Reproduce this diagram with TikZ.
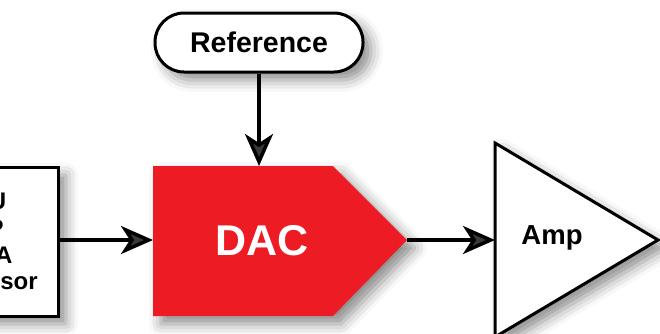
\documentclass[tikz,border=0pt]{standalone}
\usepackage{fontspec}
\setmainfont{Liberation Sans}
\usetikzlibrary{arrows.meta,shadows.blur}
\definecolor{dacred}{HTML}{ED1C24}
\begin{document}
\begin{tikzpicture}[x=1pt,y=-1pt,
  conn/.style={line width=3.5pt, -{Stealth[length=32pt,width=28pt,inset=9pt]}},
  shad/.style={blur shadow={shadow xshift=8pt, shadow yshift=-8pt, shadow blur radius=12pt, shadow opacity=45}},
  box/.style={draw=black, line width=3pt, fill=white, shad},
  lbl/.style={font=\bfseries\fontsize{#1}{#1}\selectfont}
]
\useasboundingbox (0,0) rectangle (660,333);
\clip (0,0) rectangle (660,333);

% processor box (cut by the left edge)
\node[box, minimum width=158pt, minimum height=149pt, align=center,
      font=\bfseries\fontsize{24}{26.7}\selectfont] (proc) at (-21,241.5)
  {MCU\\DSP\\FPGA\\Processor};

% reference
\node[box, rounded corners=29pt, minimum width=208pt, minimum height=59pt,
      lbl=28.5] (ref) at (259,42.5) {Reference};

% DAC
\path[fill=dacred, shad] (153,166) -- (333,166) -- (407,240) coordinate (dacout)
  -- (333,316) -- (153,316) -- (153,240) coordinate (dacin) -- cycle;
\coordinate (dactop) at (259,166);
\node[lbl=43, text=white] (dac) at (262,240.5) {DAC};

% Amp
\path[box, line join=miter] (495,143) -- (658,240) -- (495,337) -- cycle;
\coordinate (ampin) at (495,240);
\node[lbl=27.5] (amp) at (552,238) {Amp};

% connectors
\draw[conn] (ref.south) -- (dactop);
\draw[conn] (proc.east |- dacin) -- (dacin);
\draw[conn] (dacout) -- (ampin);
\end{tikzpicture}
\end{document}
